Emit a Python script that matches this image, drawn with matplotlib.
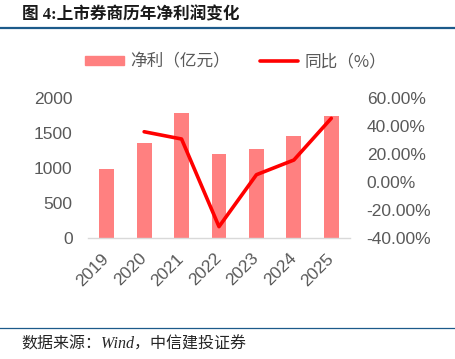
import matplotlib
matplotlib.use("Agg")
from matplotlib import pyplot as plt
from matplotlib.lines import Line2D
from matplotlib.ticker import FuncFormatter

plt.rcParams['font.family'] = ['Liberation Sans', 'Noto Sans CJK SC', 'DejaVu Sans']

years = ['2019', '2020', '2021', '2022', '2023', '2024', '2025']
profit = [990, 1355, 1780, 1200, 1268, 1462, 1745]
yoy_years = ['2020', '2021', '2022', '2023', '2024', '2025']
yoy = [35.9, 30.7, -31.9, 5.2, 15.7, 45.5]

W, H = 456, 359
fig = plt.figure(figsize=(W / 100, H / 100), dpi=100)
ax = fig.add_axes([88 / W, 1 - 238 / H, 262 / W, 140 / H])

gray = '#595959'
bar_color = '#FF8080'
line_color = '#FF0000'
rule_color = '#1C5A8A'

x = list(range(len(years)))
ax.bar(x, profit, width=0.4, color=bar_color, zorder=2)
ax.set_xlim(-0.5, len(years) - 0.5)
ax.set_ylim(0, 2000)
ax.set_yticks([0, 500, 1000, 1500, 2000])
ax.set_xticks(x)
ax.set_xticklabels(years, rotation=45, ha='right', va='center',
                   rotation_mode='anchor')
ax.tick_params(axis='both', length=0, labelsize=12.5, colors=gray)
ax.tick_params(axis='y', pad=11)
ax.tick_params(axis='x', pad=13)
for s in ['top', 'left', 'right']:
    ax.spines[s].set_visible(False)
ax.spines['bottom'].set_color('#D9D9D9')
ax.spines['bottom'].set_linewidth(1.0)

ax2 = ax.twinx()
x2 = [years.index(y) for y in yoy_years]
ax2.plot(x2, yoy, color=line_color, lw=2.6, solid_capstyle='round',
         solid_joinstyle='round', zorder=3)
ax2.set_ylim(-40, 60)
ax2.set_yticks([-40, -20, 0, 20, 40, 60])
ax2.yaxis.set_major_formatter(FuncFormatter(lambda v, p: '%.2f%%' % v))
ax2.tick_params(axis='y', length=0, labelsize=12.5, colors=gray, pad=12)
for s in ax2.spines.values():
    s.set_visible(False)

# legend
handles = [plt.Rectangle((0, 0), 1, 1, color=bar_color),
           Line2D([0], [0], color=line_color, lw=2.6, solid_capstyle='round')]
fig.legend(handles, ['净利（亿元）', '同比（%）'], loc='center',
           bbox_to_anchor=(236 / W, 1 - 62 / H), ncol=2, frameon=False,
           labelcolor=gray, handlelength=2.3, handleheight=0.45,
           handletextpad=0.4, columnspacing=1.8,
           prop={'family': ['Noto Sans CJK SC'], 'size': 12})

# title and rules
fig.text(22 / W, 1 - 15 / H, '图 4:上市券商历年净利润变化', fontsize=12,
         fontweight='bold', family=['Liberation Serif', 'Noto Sans CJK SC'],
         color='#1A1A1A', ha='left', va='center')
fig.add_artist(Line2D([0, 1], [1 - 28 / H, 1 - 28 / H], color=rule_color, lw=1.6))
fig.add_artist(Line2D([0, 1], [1 - 328 / H, 1 - 328 / H], color=rule_color, lw=0.9))
fig.text(21 / W, 1 - 345 / H, '数据来源：Wind，中信建投证券', fontsize=11.5,
         style='italic', family=['Liberation Serif', 'Noto Sans CJK SC'],
         color='#262626', ha='left', va='center')

fig.savefig('out.png', dpi=100)
